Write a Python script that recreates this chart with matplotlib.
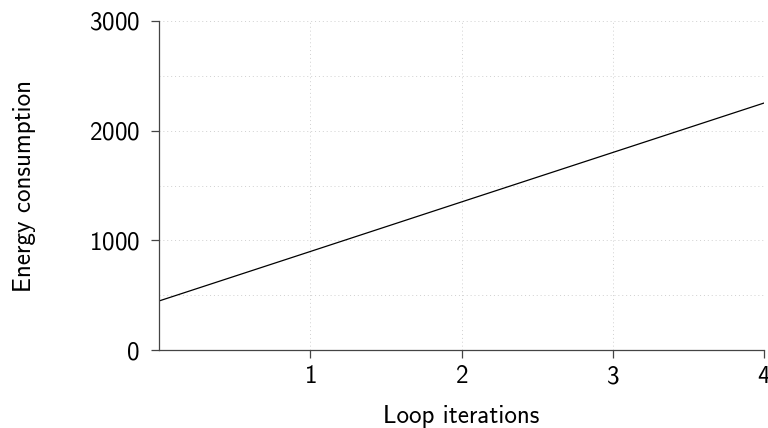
import numpy as np
import matplotlib
matplotlib.use("Agg")
import matplotlib.pyplot as plt
from matplotlib.ticker import MultipleLocator

plt.rcParams['font.family'] = ['cmss10', 'DejaVu Sans']
plt.rcParams['axes.formatter.use_mathtext'] = True

# loop iterations vs energy
iterations = [0, 1, 2, 3, 4]
energy = [447, 898, 1350, 1801, 2252]

fig = plt.figure(figsize=(7.68, 4.28), dpi=100)
ax = fig.add_axes([159/768, 1-350/428, (764-159)/768, (350-21)/428])

ax.plot(iterations, energy, color='black', lw=0.9)

ax.set_xlim(0, 4)
ax.set_ylim(0, 3000)
ax.set_xticks([1, 2, 3, 4])
ax.set_yticks([0, 1000, 2000, 3000])
ax.yaxis.set_minor_locator(MultipleLocator(500))
ax.grid(True, which='both', linestyle=(0, (1, 3)), color='#d0d0d0', lw=0.7)
ax.tick_params(which='minor', length=0)
ax.tick_params(which='major', direction='out', length=5.5, width=0.9,
               labelsize=18, color='#444444')
ax.tick_params(axis='y', pad=8.5)
ax.tick_params(axis='x', pad=5.5)
for s in ['top', 'right']:
    ax.spines[s].set_visible(False)
for s in ['left', 'bottom']:
    ax.spines[s].set_color('#444444')
    ax.spines[s].set_linewidth(0.9)

ax.set_xlabel('Loop iterations', fontsize=18, labelpad=12)
ax.set_ylabel('Energy consumption', fontsize=18, labelpad=38)

fig.savefig('out.png', dpi=100)
